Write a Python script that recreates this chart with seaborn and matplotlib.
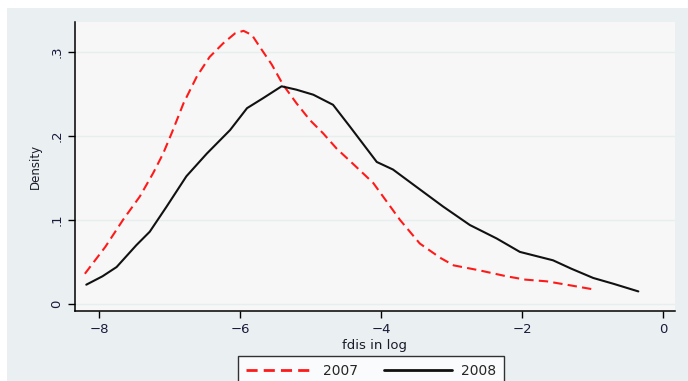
import numpy as np
import pandas as pd
import matplotlib
matplotlib.use('Agg')
import matplotlib.pyplot as plt
import seaborn as sns
from matplotlib.patches import Rectangle
from matplotlib.lines import Line2D

# kernel density curves
x_2007 = [-8.20, -7.91, -7.66, -7.42, -7.23, -7.09, -6.97, -6.80, -6.61, -6.43,
          -6.24, -6.07, -5.95, -5.83, -5.72, -5.55, -5.39, -5.20, -5.01, -4.82,
          -4.63, -4.40, -4.11, -3.73, -3.45, -3.16, -2.97, -2.60, -2.22, -1.95,
          -1.65, -1.30, -0.96]
y_2007 = [0.036, 0.068, 0.100, 0.128, 0.156, 0.179, 0.203, 0.239, 0.271, 0.294,
          0.310, 0.322, 0.325, 0.320, 0.306, 0.285, 0.261, 0.239, 0.219, 0.203,
          0.185, 0.167, 0.144, 0.100, 0.072, 0.055, 0.046, 0.040, 0.033, 0.029,
          0.027, 0.022, 0.017]

x_2008 = [-8.18, -7.95, -7.75, -7.47, -7.28, -7.04, -6.76, -6.47, -6.14, -5.90,
          -5.67, -5.41, -5.20, -4.96, -4.68, -4.44, -4.06, -3.83, -3.54, -3.12,
          -2.74, -2.36, -2.03, -1.56, -1.30, -0.99, -0.70, -0.35]
y_2008 = [0.023, 0.033, 0.044, 0.070, 0.086, 0.116, 0.152, 0.179, 0.207, 0.233,
          0.245, 0.259, 0.255, 0.249, 0.237, 0.211, 0.169, 0.160, 0.142, 0.116,
          0.094, 0.078, 0.062, 0.052, 0.042, 0.031, 0.024, 0.015]

years = ['2007', '2008']
yticks = [0, 0.1, 0.2, 0.3]
ytick_labels = ['0', '.1', '.2', '.3']
xticks = [-8, -6, -4, -2, 0]

df = pd.concat([
    pd.DataFrame({'x': x_2007, 'density': y_2007, 'year': years[0]}),
    pd.DataFrame({'x': x_2008, 'density': y_2008, 'year': years[1]}),
])

sns.set_style('ticks')
plt.rcParams['font.family'] = ['DejaVu Sans']

W, H = 688, 381
fig = plt.figure(figsize=(W / 100, H / 100), dpi=100)
fig.patch.set_facecolor('white')
fig.add_artist(Rectangle((7 / W, 0), 1 - 7 / W, 1 - 8 / H,
                         transform=fig.transFigure, facecolor='#eaf0f2',
                         edgecolor='none', zorder=-10))

ax = fig.add_axes([75 / W, (H - 311) / H, 600 / W, 289 / H])
ax.set_facecolor('#f7f7f7')

palette = {'2007': '#ff1a1a', '2008': '#111111'}
dashes = {'2007': (4.5, 2.5), '2008': ''}
sns.lineplot(data=df, x='x', y='density', hue='year', style='year',
             palette=palette, dashes=dashes, linewidth=1.5, sort=False,
             estimator=None, ax=ax, legend=False)

ax.set_xlim(-8.34, 0.17)
ax.set_ylim(-0.0083, 0.3355)
ax.set_xticks(xticks)
ax.set_xticklabels([f'\u2212{abs(t)}' if t < 0 else str(t) for t in xticks])
ax.set_yticks(yticks)
ax.set_yticklabels(ytick_labels, rotation=90, va='center')
ax.yaxis.grid(True, color='#e6eef0', linewidth=1)
ax.set_axisbelow(True)
for s in ['top', 'right']:
    ax.spines[s].set_visible(False)
for s in ['left', 'bottom']:
    ax.spines[s].set_color('black')
    ax.spines[s].set_linewidth(1.1)
ax.tick_params(axis='both', colors='black', labelcolor='#1a1a3a',
               length=5, width=1, labelsize=9.5)
ax.set_xlabel('fdis in log', fontsize=9.5, color='#1a1a2a', labelpad=2)
ax.set_ylabel('Density', fontsize=8.5, color='#1a1a2a', labelpad=6)

handles = [Line2D([], [], color=palette['2007'], linestyle=(0, (4, 2.2)), linewidth=2),
           Line2D([], [], color=palette['2008'], linewidth=2)]
leg = fig.legend(handles, years, loc='upper left', ncol=2,
                 bbox_to_anchor=(238 / W, (H - 356) / H), frameon=True,
                 fancybox=False, fontsize=10, handlelength=4.9,
                 handletextpad=0.65, columnspacing=1.9, borderpad=0.55,
                 borderaxespad=0)
leg.get_frame().set_edgecolor('black')
leg.get_frame().set_linewidth(1)
leg.get_frame().set_facecolor('white')

fig.savefig('out.png', dpi=100)
